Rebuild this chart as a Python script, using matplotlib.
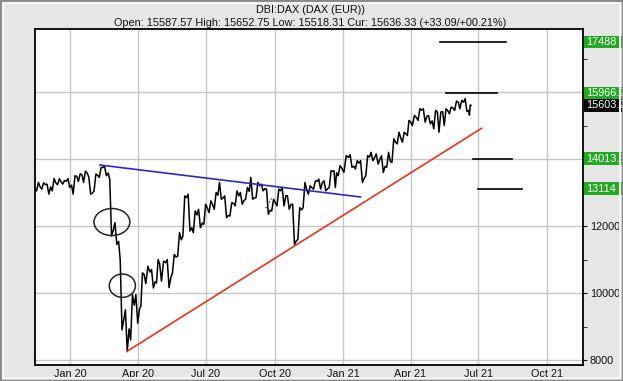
import matplotlib
matplotlib.use("Agg")
import matplotlib.pyplot as plt
import matplotlib.dates as mdates
import matplotlib.transforms as mtransforms
from matplotlib.patches import Rectangle, Ellipse
import numpy as np
import pandas as pd

plt.rcParams['font.family'] = ['Liberation Sans', 'DejaVu Sans']

# ---------------- data (weekly high / low / close) -------------
week_dates = [
    "2019-11-22", "2019-11-29", "2019-12-06", "2019-12-13", "2019-12-20", "2019-12-27",
    "2020-01-03", "2020-01-10", "2020-01-17", "2020-01-24", "2020-01-31", "2020-02-07",
    "2020-02-14", "2020-02-21", "2020-02-28",
    "2020-03-06", "2020-03-13", "2020-03-20", "2020-03-27", "2020-04-03", "2020-04-09",
    "2020-04-17", "2020-04-24", "2020-04-30",
    "2020-05-08", "2020-05-15", "2020-05-22", "2020-05-29", "2020-06-05", "2020-06-12",
    "2020-06-19", "2020-06-26",
    "2020-07-03", "2020-07-10", "2020-07-17", "2020-07-24", "2020-07-31", "2020-08-07",
    "2020-08-14", "2020-08-21", "2020-08-28",
    "2020-09-04", "2020-09-11", "2020-09-18", "2020-09-25", "2020-10-02", "2020-10-09",
    "2020-10-16", "2020-10-23", "2020-10-30",
    "2020-11-06", "2020-11-13", "2020-11-20", "2020-11-27", "2020-12-04", "2020-12-11",
    "2020-12-18", "2020-12-23", "2020-12-30",
    "2021-01-08", "2021-01-15", "2021-01-22", "2021-01-29", "2021-02-05", "2021-02-12",
    "2021-02-19", "2021-02-26",
    "2021-03-05", "2021-03-12", "2021-03-19", "2021-03-26", "2021-04-01", "2021-04-09",
    "2021-04-16", "2021-04-23", "2021-04-30",
    "2021-05-07", "2021-05-14", "2021-05-21", "2021-05-28", "2021-06-04", "2021-06-11",
    "2021-06-18", "2021-06-21",
]
week_high = [
    13300, 13290, 13250, 13420, 13410, 13360,
    13420, 13500, 13560, 13640, 13450, 13550, 13750, 13800, 13400,
    12100, 11000, 9500, 9950, 9950, 10600, 10800, 10700, 11000,
    10950, 11000, 11150, 11800, 12900, 12950, 12450, 12500,
    12650, 12750, 13000, 13300, 12900, 12700, 13050, 13000, 13150,
    13450, 13300, 13250, 13100, 12800, 13100, 13150, 12900, 12650,
    12550, 13300, 13200, 13350, 13400, 13350, 13650, 13650, 13800,
    14100, 14130, 13950, 13950, 14100, 14200, 14150, 14100,
    14200, 14600, 14800, 14800, 15150, 15300, 15500, 15500, 15300,
    15450, 15400, 15500, 15550, 15730, 15750, 15800, 15610,
]
week_low = [
    13050, 13100, 12950, 13050, 13230, 13250,
    13150, 12950, 13330, 13300, 12950, 13050, 13450, 13500, 11700,
    11450, 8900, 8250, 8600, 9100, 9600, 10280, 10150, 10300,
    10350, 10160, 10600, 11100, 11700, 11850, 11800, 11950,
    12050, 12400, 12500, 12800, 12250, 12300, 12600, 12650, 12800,
    12800, 12850, 13050, 12350, 12450, 12600, 12600, 12500, 11450,
    11600, 12550, 12950, 13100, 13100, 13050, 13150, 13150, 13500,
    13600, 13750, 13700, 13300, 13500, 13950, 13850, 13600,
    13750, 13900, 14450, 14500, 14700, 15000, 15150, 15100, 15050,
    14900, 14800, 15000, 15350, 15450, 15500, 15420, 15310,
]
week_close = [
    13164, 13236, 13166, 13283, 13319, 13337,
    13219, 13483, 13526, 13577, 12982, 13514, 13744, 13579, 11890,
    11541, 9232, 8929, 9633, 9525, 10565, 10626, 10336, 10862,
    10904, 10465, 11074, 11587, 12848, 11949, 12331, 12089,
    12528, 12633, 12920, 12838, 12313, 12674, 12901, 12764, 13033,
    12842, 13202, 13116, 12469, 12689, 13051, 12909, 12646, 11556,
    12480, 13077, 13137, 13335, 13298, 13114, 13630, 13587, 13719,
    14049, 13787, 13873, 13432, 14056, 14050, 13993, 13786,
    13920, 14502, 14621, 14749, 15107, 15234, 15460, 15280, 15136,
    15400, 15417, 15437, 15520, 15693, 15693, 15448, 15603,
]

# target levels (right-hand labels) and their marker lines
level_values = [17488, 15966.2, 14013.5, 13114]
level_labels = ["17488", "15966.2", "14013.5", "13114"]
level_start = ["2021-05-10", "2021-05-19", "2021-06-24", "2021-06-30"]
level_end = ["2021-08-07", "2021-07-26", "2021-08-15", "2021-08-28"]
current_value = 15603.2
current_label = "15603.2"

# trend lines
blue_dates = ["2020-02-10", "2021-01-24"]
blue_values = [13821, 12866]
red_dates = ["2020-03-18", "2021-07-05"]
red_values = [8269, 14916]

# circles (center date, center value, width days, height points)
circle_dates = ["2020-02-26", "2020-03-11"]
circle_values = [12119, 10218]
circle_w_days = [48, 35]
circle_h_vals = [806, 696]

dotted_dates = ["2020-09-19", "2020-09-28"]
dotted_values = [12537, 12866]

xtick_dates = ["2020-01-01", "2020-04-01", "2020-07-01", "2020-10-01",
               "2021-01-01", "2021-04-01", "2021-07-01", "2021-10-01"]
xtick_labels = ["Jan 20", "Apr 20", "Jul 20", "Oct 20",
                "Jan 21", "Apr 21", "Jul 21", "Oct 21"]
ytick_major = [8000, 10000, 12000, 14000, 16000]
ytick_labels = ["8000", "10000", "12000", "", ""]
ytick_minor = [9000, 11000, 13000, 15000, 17000]

title1 = "DBI:DAX (DAX (EUR))"
title2 = "Open: 15587.57 High: 15652.75 Low: 15518.31 Cur: 15636.33 (+33.09/+00.21%)"

# ---------------- figure ----------------
W, H = 623, 381
fig = plt.figure(figsize=(W / 100, H / 100), dpi=100, facecolor="#e6e6e6")
ax_l, ax_r, ax_t, ax_b = 35, 583, 29, 365
ax = fig.add_axes([ax_l / W, 1 - ax_b / H, (ax_r - ax_l) / W, (ax_b - ax_t) / H])
ax.set_facecolor("white")

y0, y1 = 7851, 17881
ax.set_ylim(y0, y1)
ax.set_xlim(pd.Timestamp("2019-11-15"), pd.Timestamp("2021-11-18"))

# price path: for each week go prev close -> first extreme -> second extreme -> close
d = pd.to_datetime(week_dates)
xs, ys = [], []
prev_c = week_close[0]
prev_d = d[0] - pd.Timedelta(days=7)
for i in range(len(d)):
    span = d[i] - prev_d
    hi, lo, c = week_high[i], week_low[i], week_close[i]
    first, second = (lo, hi) if c >= prev_c else (hi, lo)
    xs += [prev_d + span * 0.3, prev_d + span * 0.65, d[i]]
    ys += [first, second, c]
    prev_c, prev_d = c, d[i]
ax.plot(xs, ys, color="black", lw=1.1, zorder=3)

# trend lines
ax.plot(pd.to_datetime(blue_dates), blue_values, color="#2b2bc4", lw=1.2, zorder=4)
ax.plot(pd.to_datetime(red_dates), red_values, color="#e8321e", lw=1.2, zorder=4)
ax.plot(pd.to_datetime(dotted_dates), dotted_values, color="black", lw=0.8,
        ls=(0, (1, 2)), zorder=4)

# circles
for cd, cv, cw, ch in zip(circle_dates, circle_values, circle_w_days, circle_h_vals):
    ax.add_patch(Ellipse((mdates.date2num(pd.Timestamp(cd)), cv), cw, ch,
                         fill=False, ec="#222222", lw=1.1, zorder=5))

# target level lines
for v, s, e in zip(level_values, level_start, level_end):
    ax.plot([pd.Timestamp(s), pd.Timestamp(e)], [v, v], color="black", lw=1.2, zorder=4)

# grid / ticks
ax.set_xticks(pd.to_datetime(xtick_dates))
ax.set_xticklabels(xtick_labels)
ax.yaxis.tick_right()
ax.set_yticks(ytick_major)
ax.set_yticklabels(ytick_labels)
ax.set_yticks(ytick_minor, minor=True)
ax.grid(True, which="major", color="#c6c6c6", lw=1, zorder=0)
ax.set_axisbelow(True)
ax.tick_params(axis="x", length=0, pad=3, labelsize=7.8, colors="#111111")
ax.tick_params(axis="y", which="both", length=3, direction="out", pad=2,
               labelsize=7.8, colors="#111111")
for sp in ax.spines.values():
    sp.set_color("black")
    sp.set_linewidth(1.3)

# right-hand price boxes
trans = mtransforms.blended_transform_factory(fig.transFigure, ax.transData)
box_h = 12.5 * (y1 - y0) / (ax_b - ax_t)
for v, lab in zip(level_values, level_labels):
    ax.add_patch(Rectangle(((ax_r + 1) / W, v - box_h / 2), 45 / W, box_h,
                           transform=trans, fc="#22a822", ec="none",
                           clip_on=False, zorder=6))
    ax.text((ax_r + 3) / W, v, lab, transform=trans, color="white", fontsize=7.8,
            va="center", ha="left", clip_on=False, zorder=7)
ax.add_patch(Rectangle(((ax_r + 1) / W, current_value - box_h / 2), 45 / W, box_h,
                       transform=trans, fc="black", ec="none", clip_on=False, zorder=6))
ax.text((ax_r + 3) / W, current_value, current_label, transform=trans, color="white",
        fontsize=7.8, va="center", ha="left", clip_on=False, zorder=7)

# titles
fig.text(310 / W, 1 - 10 / H, title1, ha="center", va="center", fontsize=7.8,
         color="#111111")
fig.text(310 / W, 1 - 23 / H, title2, ha="center", va="center", fontsize=7.8,
         color="#111111")

# bevelled frame
fig.patches.append(Rectangle((0, 0), 1, 1, transform=fig.transFigure, fill=False,
                             ec="#8a8a8a", lw=2.5))
fig.patches.append(Rectangle((3 / W, 3 / H), 1 - 6 / W, 1 - 6 / H,
                             transform=fig.transFigure, fill=False,
                             ec="#f6f6f6", lw=1.5))

fig.savefig("out.png", dpi=100, facecolor=fig.get_facecolor())
